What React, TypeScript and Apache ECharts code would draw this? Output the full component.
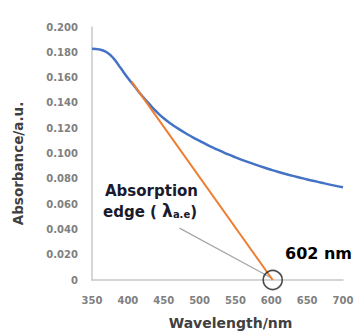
import React, { useEffect, useRef } from "react";
import * as echarts from "echarts";

const wavelengths = [350, 360, 370, 380, 390, 400, 410, 420, 430, 440, 450, 460, 470, 480, 490, 500, 510, 520, 530, 540, 550, 560, 570, 580, 590, 600, 610, 620, 630, 640, 650, 660, 670, 680, 690, 700];
const absorbance = [0.1828, 0.1823, 0.1802, 0.1752, 0.1675, 0.1597, 0.1525, 0.1455, 0.139, 0.133, 0.1278, 0.1235, 0.1197, 0.1162, 0.113, 0.110, 0.107, 0.1043, 0.1018, 0.0993, 0.097, 0.0948, 0.0928, 0.0908, 0.0889, 0.0871, 0.0854, 0.0838, 0.0823, 0.0809, 0.0795, 0.0782, 0.0769, 0.0756, 0.0744, 0.0733];
const tangentLine: [number, number][] = [[405, 0.157], [602, 0]];
const pointerLine: [number, number][] = [[472, 0.041], [599, 0.002]];
const edgePoint: [number, number] = [602, 0];
const xTicks = { min: 350, max: 700, interval: 50 };
const yTicks = { min: 0, max: 0.2, interval: 0.02 };

export default function App() {
  const ref = useRef<HTMLDivElement>(null);
  useEffect(() => {
    if (!ref.current) return;
    const chart = echarts.init(ref.current, undefined, { renderer: "svg" });
    const font = "DejaVu Sans";
    chart.setOption({
      animation: false,
      backgroundColor: "#ffffff",
      grid: { left: 92, right: 14, top: 27, bottom: 56 },
      xAxis: {
        type: "value",
        min: xTicks.min,
        max: xTicks.max,
        interval: xTicks.interval,
        name: "Wavelength/nm",
        nameLocation: "middle",
        nameGap: 36,
        nameTextStyle: { fontFamily: font, fontWeight: "bold", fontSize: 14, color: "#404040", padding: [0, 0, 0, 26] },
        axisLine: { show: true, lineStyle: { color: "#c8c8c8", width: 1.5 } },
        axisTick: { show: false },
        splitLine: { show: false },
        axisLabel: { fontFamily: font, fontWeight: "bold", fontSize: 10, color: "#808080", margin: 15 },
      },
      yAxis: {
        type: "value",
        min: yTicks.min,
        max: yTicks.max,
        interval: yTicks.interval,
        name: "Absorbance/a.u.",
        nameLocation: "middle",
        nameGap: 67,
        nameTextStyle: { fontFamily: font, fontWeight: "bold", fontSize: 13.5, color: "#404040", padding: [0, 20, 0, 0] },
        axisLine: { show: true, lineStyle: { color: "#c8c8c8", width: 1.5 } },
        axisTick: { show: false },
        splitLine: { show: false },
        axisLabel: {
          fontFamily: font,
          fontWeight: "bold",
          fontSize: 10,
          color: "#808080",
          margin: 14,
          formatter: (v: number) => (v === 0 ? "0" : v.toFixed(3)),
        },
      },
      series: [
        {
          type: "line",
          data: wavelengths.map((w, i) => [w, absorbance[i]]),
          smooth: 0.5,
          showSymbol: false,
          lineStyle: { color: "#4472C4", width: 2.5, join: "round" },
          z: 3,
        },
        {
          type: "line",
          data: tangentLine,
          showSymbol: false,
          lineStyle: { color: "#ED7D31", width: 2 },
          z: 4,
        },
        {
          type: "line",
          data: pointerLine,
          showSymbol: false,
          lineStyle: { color: "#a6a6a6", width: 1.2 },
          z: 2,
        },
        {
          type: "scatter",
          data: [edgePoint],
          symbol: "circle",
          symbolSize: 19,
          itemStyle: { color: "rgba(0,0,0,0)", borderColor: "#222222", borderWidth: 1.6 },
          z: 5,
        },
      ],
      graphic: [
        {
          type: "text",
          left: 105,
          top: 183,
          style: {
            text: "Absorption",
            fontFamily: font,
            fontWeight: "bold",
            fontSize: 15,
            fill: "#1a1a2e",
          },
        },
        {
          type: "text",
          left: 103,
          top: 202,
          style: {
            text: "{m|edge ( }{l|λ}{s|a.e}{m|)}",
            fontFamily: font,
            rich: {
              m: { fontFamily: font, fontWeight: "bold", fontSize: 15, fill: "#1a1a2e", verticalAlign: "bottom" },
              l: { fontFamily: font, fontWeight: "bold", fontSize: 17, fill: "#1a1a2e", verticalAlign: "bottom" },
              s: { fontFamily: font, fontWeight: "bold", fontSize: 10, fill: "#1a1a2e", padding: [9, 0, 0, 0], verticalAlign: "bottom" },
            },
          },
        },
        {
          type: "text",
          left: 285,
          top: 245,
          style: {
            text: "602 nm",
            fontFamily: font,
            fontWeight: "bold",
            fontSize: 16,
            fill: "#000000",
          },
        },
      ],
    });
    return () => chart.dispose();
  }, []);
  return <div ref={ref} style={{ width: 357, height: 336, position: "absolute", left: 0, top: 0 }} />;
}
